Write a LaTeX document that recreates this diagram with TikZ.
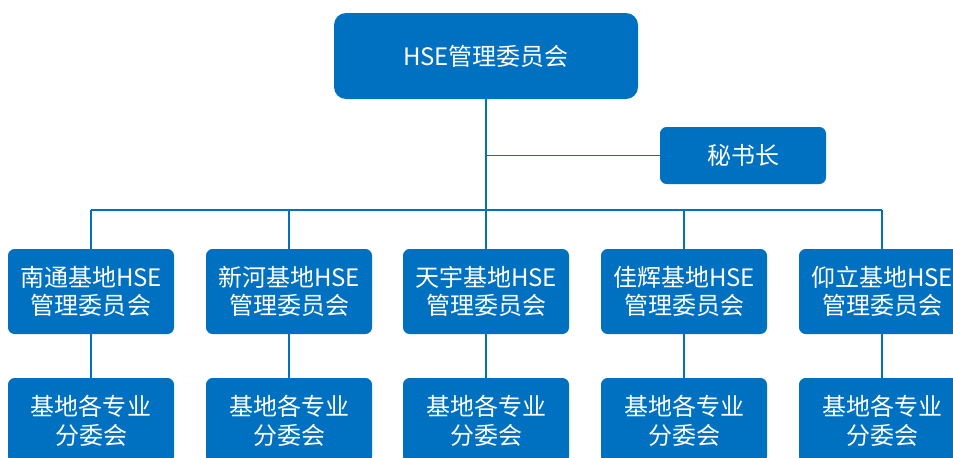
\documentclass[tikz,border=0pt]{standalone}
\usepackage{fontspec}
\newfontfamily\cjk{Noto Sans CJK SC}
\definecolor{boxblue}{RGB}{0,112,192}
\tikzstyle{orgbox}=[fill=boxblue, text=white, rounded corners=5pt, inner sep=0pt, minimum width=124.5pt, minimum height=63.75pt, align=center, font=\cjk\fontsize{18}{21.5}\selectfont]
\tikzstyle{headbox}=[orgbox, rounded corners=9pt, minimum width=228pt, minimum height=64.5pt]
\tikzstyle{link}=[draw=boxblue, line width=1.1pt]
\def\bases{91/nt/南通, 289/xh/新河, 486/ty/天宇, 684/jh/佳辉, 882/yl/仰立}

\begin{document}
\begin{tikzpicture}[x=0.75pt, y=-0.75pt]
  \useasboundingbox (0,0) rectangle (953,457);
  \clip (0,0) rectangle (953,457);

  % The committee and its secretary
  \node[headbox] (hse) at (486,56) {HSE管理委员会};
  \node[orgbox, minimum height=42.75pt] (sec) at (743,155.5) {秘书长};

  % The bus to the bases
  \coordinate (bus) at (486,210);
  \coordinate (bus-w) at (91,210);
  \coordinate (bus-e) at (882,210);
  \path[link] (hse) -- (bus);
  \path[link] (sec) -- (sec -| hse);
  \path[link] (bus-w) -- (bus-e);

  % The bases and their sub-committees
  \foreach \x/\name/\place in \bases {
    \node[orgbox] (\name) at (\x,291.5) {\place 基地HSE\\管理委员会};
    \node[orgbox] (\name-sub) at (\x,420.5) {基地各专业\\分委会};
    \path[link] (\name.north) -- (\name.north |- bus);
    \path[link] (\name) -- (\name-sub);
  }

\end{tikzpicture}
\end{document}
